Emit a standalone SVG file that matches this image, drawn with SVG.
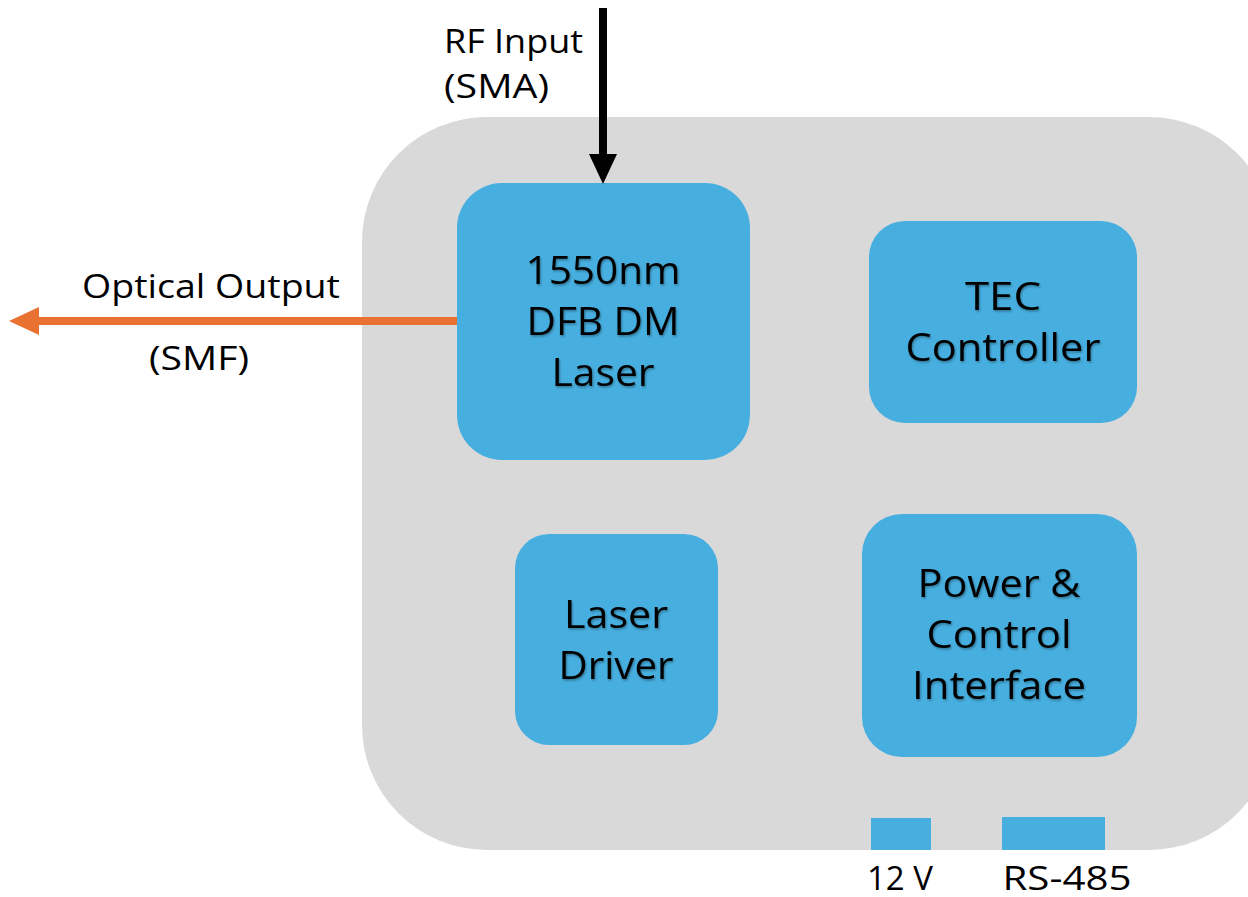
<svg xmlns="http://www.w3.org/2000/svg" width="1248" height="897" viewBox="0 0 1248 897">
<style>
.blk{fill:#47AFE0}
.nt{font-family:"Open Sans","Liberation Sans",sans-serif;font-size:39px;fill:#000;text-anchor:middle;filter:url(#sh)}
.lb{font-family:"Open Sans","Liberation Sans",sans-serif;font-size:32px;fill:#000}
</style>
<defs>
<filter id="sh" x="-10%" y="-10%" width="120%" height="130%">
<feDropShadow dx="1" dy="1.5" stdDeviation="1" flood-color="#000" flood-opacity="0.35"/>
</filter>
<marker id="ab" markerUnits="userSpaceOnUse" markerWidth="30" markerHeight="30" viewBox="0 0 30 30" refX="1" refY="15" orient="auto" overflow="visible">
<path d="M0,1 L30,15 L0,29 Z" fill="#000"/>
</marker>
<marker id="ao" markerUnits="userSpaceOnUse" markerWidth="30" markerHeight="30" viewBox="0 0 30 30" refX="1" refY="15" orient="auto" overflow="visible">
<path d="M0,1 L30,15 L0,29 Z" fill="#E97132"/>
</marker>
</defs>
<rect width="1248" height="897" fill="#fff"/>
<g id="housing">
<rect x="362" y="117" width="912" height="733" rx="125" ry="125" fill="#D9D9D9"/>
</g>
<g id="laser">
<rect class="blk" x="457" y="183" width="293" height="277" rx="45"/>
<text class="nt" x="603" y="284" textLength="155" lengthAdjust="spacingAndGlyphs">1550nm</text>
<text class="nt" x="603" y="335" textLength="153" lengthAdjust="spacingAndGlyphs">DFB DM</text>
<text class="nt" x="603" y="386" textLength="103" lengthAdjust="spacingAndGlyphs">Laser</text>
</g>
<g id="tec">
<rect class="blk" x="869" y="221" width="268" height="202" rx="36"/>
<text class="nt" x="1003" y="310" textLength="76" lengthAdjust="spacingAndGlyphs">TEC</text>
<text class="nt" x="1003" y="361" textLength="195" lengthAdjust="spacingAndGlyphs">Controller</text>
</g>
<g id="driver">
<rect class="blk" x="515" y="534" width="203" height="211" rx="34"/>
<text class="nt" x="616" y="628" textLength="104" lengthAdjust="spacingAndGlyphs">Laser</text>
<text class="nt" x="616" y="679" textLength="115" lengthAdjust="spacingAndGlyphs">Driver</text>
</g>
<g id="power">
<rect class="blk" x="862" y="514" width="275" height="243" rx="40"/>
<text class="nt" x="999" y="597" textLength="163" lengthAdjust="spacingAndGlyphs">Power &amp;</text>
<text class="nt" x="999" y="648" textLength="145" lengthAdjust="spacingAndGlyphs">Control</text>
<text class="nt" x="999" y="699" textLength="174" lengthAdjust="spacingAndGlyphs">Interface</text>
</g>
<g id="port12v">
<rect class="blk" x="871" y="818" width="60" height="32"/>
<text class="lb" x="900" y="890" text-anchor="middle" textLength="66" lengthAdjust="spacingAndGlyphs">12 V</text>
</g>
<g id="portrs485">
<rect class="blk" x="1002" y="817" width="103" height="33"/>
<text class="lb" x="1067" y="890" text-anchor="middle" textLength="129" lengthAdjust="spacingAndGlyphs">RS-485</text>
</g>
<g id="connectors">
<line x1="603" y1="8" x2="603" y2="155" stroke="#000" stroke-width="8" marker-end="url(#ab)"/>
<line x1="457" y1="321" x2="38" y2="321" stroke="#E97132" stroke-width="8" marker-end="url(#ao)"/>
</g>
<g id="labels">
<text class="lb" x="444" y="53" textLength="139" lengthAdjust="spacingAndGlyphs">RF Input</text>
<text class="lb" x="444" y="98" textLength="105" lengthAdjust="spacingAndGlyphs">(SMA)</text>
<text class="lb" x="211" y="298" text-anchor="middle" textLength="258" lengthAdjust="spacingAndGlyphs">Optical Output</text>
<text class="lb" x="199" y="370" text-anchor="middle" textLength="100" lengthAdjust="spacingAndGlyphs">(SMF)</text>
</g>
</svg>
